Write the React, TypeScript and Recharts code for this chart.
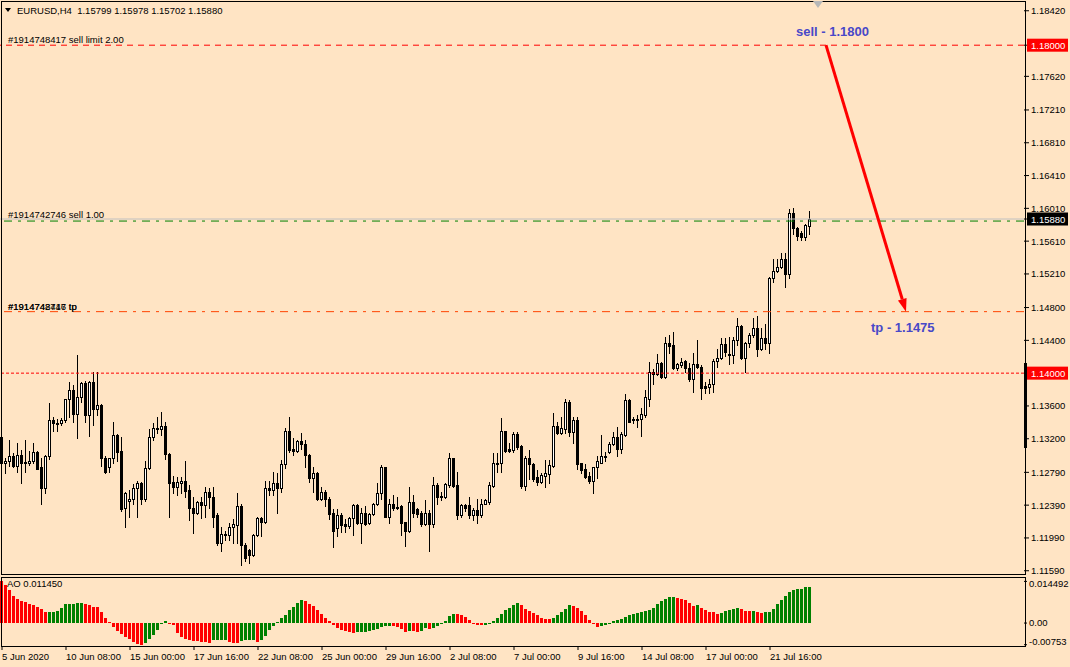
import React from "react";
import {
  ComposedChart,
  Bar,
  XAxis,
  YAxis,
  ReferenceLine,
  ReferenceDot,
} from "recharts";

// EURUSD H4, 5 Jun 16:00 .. 23 Jul 08:00 2020
const opens = [
  1.1322, 1.1291, 1.1293, 1.1299, 1.1287, 1.1300, 1.1292, 1.1290, 1.1293, 1.1304,
  1.1285, 1.1260, 1.1299, 1.1343, 1.1339, 1.1339, 1.1343, 1.1368, 1.1379, 1.1350,
  1.1371, 1.1388, 1.1349, 1.1389, 1.1356, 1.1361, 1.1297, 1.1285, 1.1296, 1.1324,
  1.1305, 1.1235, 1.1244, 1.1246, 1.1260, 1.1266, 1.1246, 1.1284, 1.1322, 1.1333,
  1.1332, 1.1335, 1.1301, 1.1267, 1.1261, 1.1266, 1.1269, 1.1257, 1.1236, 1.1229,
  1.1243, 1.1239, 1.1255, 1.1249, 1.1227, 1.1193, 1.1204, 1.1202, 1.1212, 1.1215,
  1.1238, 1.1191, 1.1184, 1.1178, 1.1202, 1.1223, 1.1218, 1.1260, 1.1257, 1.1266,
  1.1260, 1.1289, 1.1329, 1.1308, 1.1305, 1.1317, 1.1313, 1.1300, 1.1272, 1.1278,
  1.1247, 1.1255, 1.1247, 1.1229, 1.1211, 1.1227, 1.1216, 1.1213, 1.1223, 1.1239,
  1.1217, 1.1229, 1.1217, 1.1228, 1.1241, 1.1254, 1.1285, 1.1225, 1.1240, 1.1236,
  1.1238, 1.1218, 1.1207, 1.1243, 1.1234, 1.1230, 1.1216, 1.1230, 1.1216, 1.1263,
  1.1250, 1.1249, 1.1263, 1.1296, 1.1263, 1.1227, 1.1239, 1.1239, 1.1227, 1.1233,
  1.1227, 1.1241, 1.1243, 1.1262, 1.1290, 1.1290, 1.1329, 1.1307, 1.1306, 1.1326,
  1.1311, 1.1262, 1.1297, 1.1289, 1.1273, 1.1267, 1.1274, 1.1277, 1.1287, 1.1335,
  1.1327, 1.1332, 1.1365, 1.1328, 1.1343, 1.1290, 1.1283, 1.1274, 1.1269, 1.1285,
  1.1291, 1.1299, 1.1304, 1.1313, 1.1322, 1.1308, 1.1324, 1.1367, 1.1344, 1.1343,
  1.1344, 1.1349, 1.1369, 1.1402, 1.1399, 1.1412, 1.1395, 1.1437, 1.1434, 1.1406,
  1.1410, 1.1415, 1.1406, 1.1393, 1.1411, 1.1408, 1.1384, 1.1383, 1.1387, 1.1415,
  1.1418, 1.1435, 1.1423, 1.1422, 1.1441, 1.1457, 1.1418, 1.1437, 1.1446, 1.1455,
  1.1430, 1.1443, 1.1437, 1.1516, 1.1524, 1.1529, 1.1539, 1.1521, 1.1595, 1.1577,
  1.1571, 1.1566, 1.15799,
];

const highs = [
  1.1323, 1.1297, 1.1319, 1.1302, 1.1315, 1.1306, 1.1318, 1.1305, 1.1315, 1.1305,
  1.1296, 1.1300, 1.1363, 1.1347, 1.1344, 1.1345, 1.1369, 1.1389, 1.1385, 1.1422,
  1.1389, 1.1390, 1.1391, 1.1401, 1.1402, 1.1362, 1.1299, 1.1297, 1.1340, 1.1326,
  1.1322, 1.1255, 1.1257, 1.1265, 1.1268, 1.1267, 1.1293, 1.1332, 1.1339, 1.1347,
  1.1352, 1.1340, 1.1302, 1.1274, 1.1273, 1.1273, 1.1293, 1.1263, 1.1249, 1.1244,
  1.1249, 1.1261, 1.1260, 1.1261, 1.1230, 1.1212, 1.1208, 1.1217, 1.1222, 1.1254,
  1.1241, 1.1193, 1.1185, 1.1204, 1.1225, 1.1225, 1.1269, 1.1269, 1.1280, 1.1278,
  1.1294, 1.1333, 1.1347, 1.1321, 1.1318, 1.1327, 1.1318, 1.1301, 1.1285, 1.1279,
  1.1261, 1.1258, 1.1249, 1.1234, 1.1234, 1.1229, 1.1222, 1.1225, 1.1240, 1.1240,
  1.1235, 1.1238, 1.1229, 1.1242, 1.1266, 1.1288, 1.1286, 1.1246, 1.1251, 1.1249,
  1.1239, 1.1219, 1.1261, 1.1251, 1.1235, 1.1232, 1.1245, 1.1233, 1.1273, 1.1266,
  1.1255, 1.1266, 1.1302, 1.1297, 1.1280, 1.1240, 1.1241, 1.1249, 1.1235, 1.1246,
  1.1247, 1.1247, 1.1267, 1.1302, 1.1302, 1.1345, 1.1330, 1.1315, 1.1328, 1.1328,
  1.1312, 1.1299, 1.1306, 1.1290, 1.1282, 1.1278, 1.1294, 1.1294, 1.1351, 1.1340,
  1.1346, 1.1369, 1.1367, 1.1346, 1.1347, 1.1291, 1.1289, 1.1279, 1.1286, 1.1299,
  1.1324, 1.1304, 1.1316, 1.1328, 1.1334, 1.1328, 1.1374, 1.1368, 1.1346, 1.1349,
  1.1358, 1.1380, 1.1413, 1.1405, 1.1423, 1.1413, 1.1444, 1.1446, 1.1450, 1.1412,
  1.1418, 1.1416, 1.1412, 1.1424, 1.1441, 1.1410, 1.1389, 1.1393, 1.1417, 1.1429,
  1.1443, 1.1443, 1.1444, 1.1444, 1.1467, 1.1459, 1.1438, 1.1449, 1.1467, 1.1470,
  1.1455, 1.1460, 1.1517, 1.1539, 1.1539, 1.1546, 1.1546, 1.1600, 1.1601, 1.1578,
  1.1573, 1.1582, 1.15978,
];

const lows = [
  1.1280, 1.1278, 1.1287, 1.1285, 1.1280, 1.1266, 1.1280, 1.1288, 1.1290, 1.1283,
  1.1240, 1.1254, 1.1295, 1.1329, 1.1329, 1.1337, 1.1340, 1.1347, 1.1340, 1.1321,
  1.1365, 1.1341, 1.1323, 1.1337, 1.1349, 1.1287, 1.1278, 1.1280, 1.1291, 1.1293,
  1.1232, 1.1212, 1.1224, 1.1241, 1.1224, 1.1240, 1.1244, 1.1283, 1.1319, 1.1327,
  1.1324, 1.1295, 1.1225, 1.1254, 1.1251, 1.1254, 1.1249, 1.1221, 1.1205, 1.1228,
  1.1223, 1.1225, 1.1236, 1.1212, 1.1191, 1.1183, 1.1196, 1.1197, 1.1193, 1.1193,
  1.1166, 1.1171, 1.1168, 1.1177, 1.1201, 1.1201, 1.1217, 1.1251, 1.1251, 1.1230,
  1.1255, 1.1284, 1.1304, 1.1300, 1.1304, 1.1308, 1.1285, 1.1267, 1.1255, 1.1245,
  1.1245, 1.1238, 1.1222, 1.1188, 1.1201, 1.1206, 1.1206, 1.1211, 1.1202, 1.1216,
  1.1193, 1.1215, 1.1216, 1.1227, 1.1239, 1.1247, 1.1224, 1.1217, 1.1233, 1.1234,
  1.1202, 1.1189, 1.1206, 1.1224, 1.1225, 1.1213, 1.1215, 1.1183, 1.1212, 1.1241,
  1.1245, 1.1248, 1.1261, 1.1261, 1.1222, 1.1225, 1.1232, 1.1223, 1.1221, 1.1217,
  1.1224, 1.1240, 1.1241, 1.1261, 1.1280, 1.1280, 1.1304, 1.1304, 1.1304, 1.1308,
  1.1260, 1.1257, 1.1271, 1.1269, 1.1263, 1.1266, 1.1261, 1.1266, 1.1285, 1.1326,
  1.1326, 1.1327, 1.1323, 1.1315, 1.1283, 1.1278, 1.1272, 1.1266, 1.1254, 1.1272,
  1.1290, 1.1293, 1.1302, 1.1312, 1.1299, 1.1302, 1.1323, 1.1340, 1.1339, 1.1334,
  1.1323, 1.1346, 1.1360, 1.1387, 1.1398, 1.1394, 1.1394, 1.1424, 1.1405, 1.1404,
  1.1408, 1.1401, 1.1391, 1.1377, 1.1406, 1.1369, 1.1376, 1.1376, 1.1377, 1.1408,
  1.1417, 1.1421, 1.1411, 1.1412, 1.1434, 1.1417, 1.1401, 1.1432, 1.1444, 1.1421,
  1.1428, 1.1430, 1.1424, 1.1511, 1.1523, 1.1528, 1.1505, 1.1516, 1.1570, 1.1562,
  1.1563, 1.1562, 1.15702,
];

const closes = [
  1.1291, 1.1293, 1.1299, 1.1287, 1.1300, 1.1291, 1.1290, 1.1293, 1.1304, 1.1283,
  1.1260, 1.1299, 1.1343, 1.1339, 1.1338, 1.1343, 1.1368, 1.1379, 1.1350, 1.1371,
  1.1388, 1.1349, 1.1389, 1.1356, 1.1361, 1.1297, 1.1280, 1.1296, 1.1324, 1.1304,
  1.1234, 1.1254, 1.1246, 1.1260, 1.1266, 1.1246, 1.1284, 1.1322, 1.1333, 1.1332,
  1.1335, 1.1301, 1.1266, 1.1261, 1.1267, 1.1269, 1.1256, 1.1236, 1.1229, 1.1243,
  1.1239, 1.1255, 1.1249, 1.1225, 1.1193, 1.1204, 1.1202, 1.1212, 1.1216, 1.1238,
  1.1191, 1.1174, 1.1178, 1.1202, 1.1223, 1.1218, 1.1260, 1.1257, 1.1266, 1.1260,
  1.1289, 1.1329, 1.1306, 1.1305, 1.1317, 1.1313, 1.1300, 1.1272, 1.1278, 1.1247,
  1.1255, 1.1246, 1.1228, 1.1208, 1.1227, 1.1215, 1.1213, 1.1223, 1.1239, 1.1217,
  1.1229, 1.1216, 1.1228, 1.1241, 1.1254, 1.1285, 1.1225, 1.1240, 1.1236, 1.1237,
  1.1217, 1.1207, 1.1243, 1.1230, 1.1228, 1.1216, 1.1230, 1.1216, 1.1263, 1.1249,
  1.1249, 1.1265, 1.1296, 1.1262, 1.1227, 1.1239, 1.1236, 1.1227, 1.1233, 1.1227,
  1.1241, 1.1245, 1.1263, 1.1291, 1.1291, 1.1329, 1.1305, 1.1305, 1.1326, 1.1310,
  1.1262, 1.1297, 1.1289, 1.1271, 1.1267, 1.1276, 1.1278, 1.1288, 1.1335, 1.1327,
  1.1333, 1.1365, 1.1328, 1.1343, 1.1289, 1.1282, 1.1273, 1.1269, 1.1285, 1.1293,
  1.1299, 1.1298, 1.1313, 1.1322, 1.1308, 1.1326, 1.1367, 1.1341, 1.1343, 1.1344,
  1.1350, 1.1371, 1.1402, 1.1399, 1.1412, 1.1395, 1.1437, 1.1433, 1.1406, 1.1411,
  1.1413, 1.1406, 1.1393, 1.1411, 1.1407, 1.1382, 1.1382, 1.1387, 1.1415, 1.1418,
  1.1435, 1.1426, 1.1422, 1.1441, 1.1457, 1.1418, 1.1437, 1.1446, 1.1455, 1.1430,
  1.1443, 1.1437, 1.1516, 1.1524, 1.1530, 1.1539, 1.1521, 1.1595, 1.1577, 1.1567,
  1.1566, 1.1581, 1.1588,
];

// Awesome Oscillator, one value per bar
const aoValues = [
  0.014492, 0.01332, 0.0114, 0.00936, 0.00852, 0.00756, 0.0072, 0.0066, 0.00636, 0.00552,
  0.0048, 0.00372, 0.00375, 0.0038, 0.00432, 0.00516, 0.0066, 0.00664, 0.00668, 0.00708,
  0.00712, 0.0066, 0.00612, 0.00564, 0.0056, 0.00396, 0.00192, 0.00036, -0.0012, -0.00288,
  -0.00384, -0.00468, -0.0054, -0.00648, -0.0072, -0.00753, -0.00708, -0.00564, -0.00408, -0.00228,
  -0.00048, 0.00084, -0.00024, -0.0006, -0.00348, -0.0048, -0.00564, -0.006, -0.00624, -0.0063,
  -0.00648, -0.0066, -0.00684, -0.006, -0.00596, -0.00592, -0.0059, -0.00648, -0.00684, -0.0069,
  -0.00624, -0.006, -0.00596, -0.00592, -0.00648, -0.00588, -0.00444, -0.0024, -0.0009, 0.00048,
  0.0018, 0.00288, 0.00468, 0.00552, 0.00684, 0.00792, 0.00756, 0.00648, 0.00576, 0.00468,
  0.00324, 0.0018, 0.00072, -0.00072, -0.0018, -0.00252, -0.00288, -0.00324, -0.0033, -0.00326,
  -0.00322, -0.00318, -0.00276, -0.0024, -0.00204, -0.00144, -0.00096, -0.00094, -0.00098, -0.00144,
  -0.00204, -0.00324, -0.00276, -0.0028, -0.00324, -0.00276, -0.0018, -0.00204, -0.0018, -0.00096,
  -0.00036, 0.0006, 0.0024, 0.00306, 0.003, 0.00276, 0.00216, 0.00108, -0.00024, -0.0006,
  -0.00064, -0.0006, -0.00024, 0.0006, 0.0018, 0.00324, 0.00468, 0.0054, 0.00612, 0.00684,
  0.00612, 0.00504, 0.00432, 0.0036, 0.00264, 0.0018, 0.00144, 0.0014, 0.0018, 0.00288,
  0.00396, 0.00504, 0.00612, 0.00608, 0.0054, 0.00432, 0.00288, 0.00108, -0.00024, -0.00132,
  -0.00096, -0.0006, -0.00024, 0.00072, 0.00108, 0.00144, 0.00216, 0.00288, 0.00324, 0.0036,
  0.00396, 0.00432, 0.00468, 0.0054, 0.00648, 0.00756, 0.00828, 0.009, 0.00904, 0.00864,
  0.00828, 0.00792, 0.00684, 0.00576, 0.00612, 0.0054, 0.00468, 0.00396, 0.00392, 0.00324,
  0.0036, 0.00432, 0.00468, 0.00504, 0.00508, 0.00504, 0.00432, 0.00428, 0.00432, 0.00396,
  0.0036, 0.00396, 0.004, 0.00504, 0.00648, 0.00792, 0.00936, 0.0108, 0.01152, 0.01188,
  0.01192, 0.0126, 0.01264,
];

const timeLabels = [
  "5 Jun 2020",
  "10 Jun 08:00",
  "15 Jun 00:00",
  "17 Jun 16:00",
  "22 Jun 08:00",
  "25 Jun 00:00",
  "29 Jun 16:00",
  "2 Jul 08:00",
  "7 Jul 00:00",
  "9 Jul 16:00",
  "14 Jul 08:00",
  "17 Jul 00:00",
  "21 Jul 16:00",
];
const BARS_PER_LABEL = 16;

const priceTicks = [
  1.1842, 1.18, 1.1762, 1.1721, 1.1681, 1.1641, 1.1601, 1.1588, 1.1561, 1.1521,
  1.148, 1.144, 1.14, 1.136, 1.132, 1.1279, 1.1239, 1.1199, 1.1159,
];
const aoTicks = [0.014492, 0, -0.00753];

// order / level lines
const SELL_LIMIT = 1.18;
const BID = 1.1588;
const SELL_OPEN = 1.15855;
const TAKE_PROFIT = 1.1475;
const LEVEL = 1.14;

const BG = "#FFE4C4";
const FONT = "'Liberation Sans', Arial, sans-serif";
const FS = 9.5;
const W = 1070;
const AXIS_W = 46;
const SLOTS = 256; // 4px per bar over the 1024px plot, right part is chart shift

const MARKED: Record<string, string> = {
  "1.18000": "#FF0000",
  "1.15880": "#000000",
  "1.14000": "#FF0000",
};

const rows = Array.from({ length: SLOTS }, (_, i) =>
  i < closes.length
    ? {
        i,
        o: opens[i],
        h: highs[i],
        l: lows[i],
        c: closes[i],
        hl: [lows[i], highs[i]],
        ao: aoValues[i],
        up: i > 0 && aoValues[i] > aoValues[i - 1],
      }
    : { i }
);

const timeTicks = timeLabels.map((_, k) => k * BARS_PER_LABEL);

function renderCandle(props: any) {
  const { x, y, width, height, payload } = props;
  if (!payload || payload.o == null || !isFinite(y)) return <g />;
  const { o, h, l, c } = payload;
  const k = h > l ? height / (h - l) : 0;
  const py = (p: number) => y + (h - p) * k;
  const cx = Math.floor(x + width / 2);
  const top = Math.round(py(Math.max(o, c)));
  const bot = Math.round(py(Math.min(o, c)));
  return (
    <g>
      <line
        x1={cx + 0.5}
        x2={cx + 0.5}
        y1={Math.round(y)}
        y2={Math.round(y + height) + 1}
        stroke="#000"
      />
      <rect
        x={cx - 0.5}
        y={top + 0.5}
        width={2}
        height={Math.max(bot - top, 1)}
        fill={c >= o ? "#fff" : "#000"}
        stroke="#000"
      />
    </g>
  );
}

function renderAo(props: any) {
  const { x, y, width, height, payload } = props;
  if (!payload || payload.ao == null || !isFinite(y)) return <g />;
  const cx = Math.floor(x + width / 2);
  const y0 = Math.round(Math.min(y, y + height));
  const y1 = Math.round(Math.max(y, y + height));
  return (
    <rect
      x={cx - 1}
      y={y0}
      width={3}
      height={Math.max(y1 - y0, 1)}
      fill={payload.up ? "#008000" : "#FF0000"}
    />
  );
}

function renderArrow(props: any) {
  const { x1, y1, x2, y2 } = props;
  const a = Math.atan2(y2 - y1, x2 - x1);
  const len = 13;
  const half = 4.5;
  const bx = x2 - len * Math.cos(a);
  const by = y2 - len * Math.sin(a);
  const nx = -Math.sin(a) * half;
  const ny = Math.cos(a) * half;
  return (
    <g>
      <line x1={x1} y1={y1} x2={bx} y2={by} stroke="#FF0000" strokeWidth={3} />
      <polygon
        points={`${x2},${y2} ${bx + nx},${by + ny} ${bx - nx},${by - ny}`}
        fill="#FF0000"
      />
    </g>
  );
}

function OrderLabel(props: any) {
  const { viewBox, lines, dy = -2 } = props;
  if (!viewBox) return null;
  return (
    <g>
      {lines.map((t: string) => (
        <text
          key={t}
          x={viewBox.x + 8}
          y={viewBox.y + dy}
          fontSize={FS}
          fontFamily={FONT}
          fill="#000"
        >
          {t}
        </text>
      ))}
    </g>
  );
}

function PriceTick(props: any) {
  const { x, y, payload } = props;
  const label = Number(payload.value).toFixed(5);
  const bg = MARKED[label];
  return (
    <g>
      {bg && <rect x={x - 4} y={y - 6.5} width={41} height={13} fill={bg} />}
      <text
        x={x}
        y={y + 3.5}
        fill={bg ? "#fff" : "#000"}
        fontSize={FS}
        fontFamily={FONT}
      >
        {label}
      </text>
    </g>
  );
}

function AoTick(props: any) {
  const { x, y, payload } = props;
  const v = payload.value;
  const label = v === 0 ? "0.00" : String(v);
  const shift = v > 0 ? 2.5 : v < 0 ? -3.5 : -0.5;
  return (
    <text x={x} y={y + 3.5 + shift} fill="#000" fontSize={FS} fontFamily={FONT}>
      {label}
    </text>
  );
}

function TimeTick(props: any) {
  const { x, y, payload } = props;
  const label = timeLabels[Math.round(payload.value / BARS_PER_LABEL)];
  return (
    <text x={x} y={y + 8} fill="#000" fontSize={FS} fontFamily={FONT}>
      {label}
    </text>
  );
}

const noteStyle = { fontSize: 13, fontWeight: 700, fontFamily: FONT, fill: "#4848C8" };

export default function App() {
  return (
    <div
      style={{
        position: "absolute",
        left: 0,
        top: 0,
        width: W,
        height: 667,
        background: BG,
        overflow: "hidden",
        fontFamily: FONT,
      }}
    >
      <div style={{ position: "absolute", left: 0, top: 0 }}>
        <ComposedChart
          width={W}
          height={575}
          data={rows}
          margin={{ top: 1, right: 0, bottom: 0, left: 0 }}
        >
          <XAxis dataKey="i" type="category" hide />
          <YAxis
            orientation="right"
            width={AXIS_W}
            type="number"
            domain={[1.11538, 1.18539]}
            allowDataOverflow
            ticks={priceTicks}
            interval={0}
            axisLine={false}
            tickLine={{ stroke: "#000" }}
            tickSize={5}
            tickMargin={2}
            tick={<PriceTick />}
          />
          <ReferenceLine y={LEVEL} stroke="#FF0000" strokeDasharray="3 2" />
          <ReferenceLine
            y={TAKE_PROFIT}
            stroke="#FF4500"
            strokeDasharray="8 6 3 6"
            label={<OrderLabel lines={["#1914742746 tp", "#1914748417 tp"]} />}
          />
          <ReferenceLine y={BID} stroke="#C0C0C0" />
          <ReferenceLine
            y={SELL_OPEN}
            stroke="#008000"
            strokeDasharray="8 6 3 6"
            label={<OrderLabel lines={["#1914742746 sell 1.00"]} dy={-3} />}
          />
          <ReferenceLine
            y={SELL_LIMIT}
            stroke="#FF0000"
            strokeDasharray="6 5"
            label={<OrderLabel lines={["#1914748417 sell limit 2.00"]} />}
          />
          <Bar dataKey="hl" shape={renderCandle} isAnimationActive={false} />
          <ReferenceLine
            segment={[
              { x: 206, y: SELL_LIMIT },
              { x: 226, y: TAKE_PROFIT },
            ]}
            shape={renderArrow}
          />
          <ReferenceDot
            x={199}
            y={SELL_LIMIT}
            r={0}
            shape={(p: any) => (
              <text x={p.cx - 2} y={p.cy - 9.5} {...noteStyle}>
                sell - 1.1800
              </text>
            )}
          />
          <ReferenceDot
            x={217}
            y={TAKE_PROFIT}
            r={0}
            shape={(p: any) => (
              <text x={p.cx + 1} y={p.cy + 20} {...noteStyle}>
                tp - 1.1475
              </text>
            )}
          />
        </ComposedChart>
      </div>

      <div style={{ position: "absolute", left: 0, top: 576 }}>
        <ComposedChart
          width={W}
          height={91}
          data={rows}
          margin={{ top: 1, right: 0, bottom: 0, left: 0 }}
        >
          <XAxis
            dataKey="i"
            type="category"
            height={21}
            ticks={timeTicks}
            interval={0}
            axisLine={false}
            tickLine={{ stroke: "#000" }}
            tickSize={4}
            tickMargin={2}
            tick={<TimeTick />}
          />
          <YAxis
            orientation="right"
            width={AXIS_W}
            type="number"
            domain={[-0.00798, 0.01602]}
            allowDataOverflow
            ticks={aoTicks}
            interval={0}
            axisLine={false}
            tickLine={{ stroke: "#000" }}
            tickSize={3}
            tickMargin={2}
            tick={<AoTick />}
          />
          <Bar dataKey="ao" shape={renderAo} isAnimationActive={false} />
        </ComposedChart>
      </div>

      {/* window frames */}
      <div
        style={{
          position: "absolute",
          left: 1,
          top: 1,
          width: 1025,
          height: 574,
          border: "1px solid #000",
          boxSizing: "border-box",
          pointerEvents: "none",
        }}
      />
      <div
        style={{
          position: "absolute",
          left: 1,
          top: 577,
          width: 1025,
          height: 70,
          border: "1px solid #000",
          boxSizing: "border-box",
          pointerEvents: "none",
        }}
      />
      <div
        style={{
          position: "absolute",
          left: 1024,
          top: 363,
          width: 3,
          height: 85,
          background: "#000",
        }}
      />
      {/* chart shift marker */}
      <div
        style={{
          position: "absolute",
          left: 813,
          top: 1,
          width: 0,
          height: 0,
          borderLeft: "5px solid transparent",
          borderRight: "5px solid transparent",
          borderTop: "7px solid #B8B8B8",
        }}
      />
      {/* header */}
      <div
        style={{
          position: "absolute",
          left: 5,
          top: 8,
          width: 0,
          height: 0,
          borderLeft: "3px solid transparent",
          borderRight: "3px solid transparent",
          borderTop: "4px solid #000",
        }}
      />
      <div
        style={{
          position: "absolute",
          left: 17,
          top: 5,
          fontSize: FS,
          lineHeight: "12px",
          whiteSpace: "pre",
          color: "#000",
        }}
      >
        {"EURUSD,H4  1.15799 1.15978 1.15702 1.15880"}
      </div>
      <div
        style={{
          position: "absolute",
          left: 7,
          top: 578,
          fontSize: FS,
          lineHeight: "12px",
          whiteSpace: "pre",
          color: "#000",
        }}
      >
        AO 0.011450
      </div>
    </div>
  );
}
